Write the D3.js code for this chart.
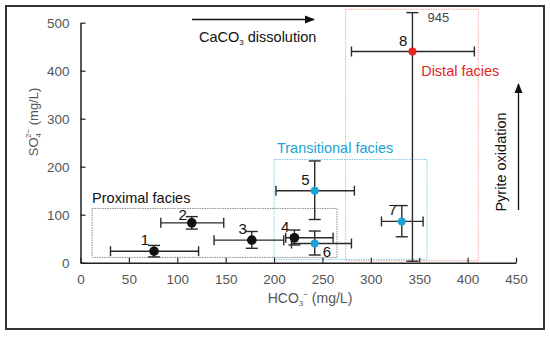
<!DOCTYPE html>
<html>
<head>
<meta charset="utf-8">
<script src="https://cdn.jsdelivr.net/npm/d3@7"></script>
<style>
  body { margin: 0; background: #fff; }
  svg text { font-family: "Liberation Sans", Arial, sans-serif; }
</style>
</head>
<body>
<div id="chart"></div>
<script>
"use strict";

// sample points
var labels = ["1", "2", "3", "4", "5", "6", "7", "8"];
var hco3   = [76, 115, 177, 221, 242, 242, 332, 343];
var so4    = [24, 83, 47, 52, 150, 40, 86, 440];
var hco3Lo = [31, 83, 138, 212, 202, 218, 311, 280];
var hco3Hi = [122, 148, 210, 261, 283, 280, 354, 407];
var so4Lo  = [12, 70, 30, 37, 90, 16, 54, 3];
var so4Hi  = [36, 96, 65, 68, 212, 66, 119, 945];
var facies = ["proximal", "proximal", "proximal", "proximal", "transitional", "transitional", "transitional", "distal"];

// facies boxes (data units)
var boxNames = ["Proximal facies", "Transitional facies", "Distal facies"];
var boxX0 = [12, 200, 274];
var boxX1 = [265, 358, 411];
var boxY0 = [11, 7, 4];
var boxY1 = [113, 215, 528];

var xTicks = [0, 50, 100, 150, 200, 250, 300, 350, 400, 450];
var yTicks = [0, 100, 200, 300, 400, 500];

var larg = 550, haut = 337;
var yMaxShown = 521; // upper whisker of 8 (945) is cut here

var colors = { proximal: "#111111", transitional: "#1aa3d6", distal: "#e2261f" };
var boxColors = ["#8a8a8a", "#7fcbe8", "#f0a49c"];
var boxText = ["#111111", "#1aa3d6", "#e2261f"];

var svg = d3.select("#chart").append("svg")
  .attr("width", larg)
  .attr("height", haut);

// cadre
svg.append("rect")
  .attr("x", 6).attr("y", 6)
  .attr("width", 538).attr("height", 323)
  .attr("fill", "#fff")
  .attr("stroke", "#333")
  .attr("stroke-width", 2);

var x = d3.scaleLinear().domain([0, 450]).range([80.5, 516]);
var y = d3.scaleLinear().domain([0, 500]).range([262.7, 22.7]);

// boites des facies
boxNames.forEach(function(name, i) {
  svg.append("rect")
    .attr("x", x(boxX0[i]))
    .attr("y", y(boxY1[i]))
    .attr("width", x(boxX1[i]) - x(boxX0[i]))
    .attr("height", y(boxY0[i]) - y(boxY1[i]))
    .attr("fill", "none")
    .attr("stroke", boxColors[i])
    .attr("stroke-width", 1)
    .attr("stroke-dasharray", "1.5,1");
});

// axes
var xAxis = svg.append("g")
  .attr("transform", "translate(0," + y(0) + ")")
  .call(d3.axisBottom(x).tickValues(xTicks).tickSizeInner(-5).tickSizeOuter(0).tickPadding(12));
var yAxis = svg.append("g")
  .attr("transform", "translate(" + x(0) + ",0)")
  .call(d3.axisLeft(y).tickValues(yTicks).tickSizeInner(-5).tickSizeOuter(0).tickPadding(11));

[xAxis, yAxis].forEach(function(g) {
  g.select(".domain").attr("stroke", "#222").attr("stroke-width", 1.5);
  g.selectAll(".tick line").attr("stroke", "#222").attr("stroke-width", 1.2);
  g.selectAll(".tick text")
    .attr("fill", "#555")
    .attr("font-size", "13.5px")
    .attr("font-family", "Liberation Sans, Arial, sans-serif");
});

// titres des axes
var xt = svg.append("text")
  .attr("x", 310).attr("y", 303)
  .attr("text-anchor", "middle")
  .attr("font-size", "14px")
  .attr("fill", "#555");
xt.append("tspan").text("HCO");
xt.append("tspan").text("3").attr("font-size", "8px").attr("dy", 3);
xt.append("tspan").text("\u2212").attr("font-size", "8px").attr("dy", -9);
xt.append("tspan").text(" (mg/L)").attr("dy", 6);

var yt = svg.append("text")
  .attr("transform", "translate(38,122) rotate(-90)")
  .attr("text-anchor", "middle")
  .attr("font-size", "13px")
  .attr("fill", "#555");
yt.append("tspan").text("SO");
yt.append("tspan").text("4").attr("font-size", "8px").attr("dy", 3);
yt.append("tspan").text("2\u2212").attr("font-size", "8px").attr("dx", -5).attr("dy", -10);
yt.append("tspan").text(" (mg/L)").attr("dy", 7);

// libelles des facies
var faciesLabelX = [12, 203, 352];
var faciesLabelY = [125, 229, 388];
boxNames.forEach(function(name, i) {
  svg.append("text")
    .attr("x", x(faciesLabelX[i]))
    .attr("y", y(faciesLabelY[i]))
    .attr("font-size", "14.5px")
    .attr("fill", boxText[i])
    .text(name);
});

// barres d'erreur
var errG = svg.append("g").attr("stroke", "#2a2a2a").attr("stroke-width", 1.4);
labels.forEach(function(l, i) {
  var cx = x(hco3[i]), cy = y(so4[i]);
  var top = y(Math.min(so4Hi[i], yMaxShown)), bot = y(so4Lo[i]);
  var left = x(hco3Lo[i]), right = x(hco3Hi[i]);
  errG.append("line").attr("x1", left).attr("x2", right).attr("y1", cy).attr("y2", cy);
  errG.append("line").attr("x1", left).attr("x2", left).attr("y1", cy - 5).attr("y2", cy + 5);
  errG.append("line").attr("x1", right).attr("x2", right).attr("y1", cy - 5).attr("y2", cy + 5);
  errG.append("line").attr("x1", cx).attr("x2", cx).attr("y1", top).attr("y2", bot);
  errG.append("line").attr("x1", cx - 6).attr("x2", cx + 6).attr("y1", top).attr("y2", top);
  errG.append("line").attr("x1", cx - 6).attr("x2", cx + 6).attr("y1", bot).attr("y2", bot);
});

// points
svg.selectAll("circle.pt")
  .data(labels)
  .enter()
  .append("circle")
  .attr("class", "pt")
  .attr("cx", function(d, i) { return x(hco3[i]); })
  .attr("cy", function(d, i) { return y(so4[i]); })
  .attr("r", function(d, i) { return facies[i] === "proximal" ? 4.8 : 4; })
  .attr("fill", function(d, i) { return colors[facies[i]]; });

// numeros des points (6 en dessous a droite)
svg.selectAll("text.num")
  .data(labels)
  .enter()
  .append("text")
  .attr("class", "num")
  .attr("x", function(d, i) { return d === "6" ? x(hco3[i]) + 8 : x(hco3[i]) - 5; })
  .attr("y", function(d, i) { return d === "6" ? y(so4[i]) + 13 : y(so4[i]) - (d === "2" ? 3 : 6); })
  .attr("text-anchor", function(d) { return d === "6" ? "start" : "end"; })
  .attr("font-size", "15px")
  .attr("fill", "#111")
  .text(function(d) { return d; });

// valeur coupee
svg.append("text")
  .attr("x", x(hco3[7]) + 15)
  .attr("y", 22)
  .attr("font-size", "13px")
  .attr("fill", "#444")
  .text(so4Hi[7]);

// fleches
svg.append("defs").append("marker")
  .attr("id", "tete")
  .attr("viewBox", "0 0 10 10")
  .attr("refX", 9).attr("refY", 5)
  .attr("markerWidth", 10).attr("markerHeight", 10)
  .attr("markerUnits", "userSpaceOnUse")
  .attr("orient", "auto")
  .append("path")
  .attr("d", "M0,1 L10,5 L0,9 Z")
  .attr("fill", "#111");

svg.append("line")
  .attr("x1", 192).attr("y1", 19.5).attr("x2", 314).attr("y2", 19.5)
  .attr("stroke", "#111").attr("stroke-width", 1.3)
  .attr("marker-end", "url(#tete)");

var ca = svg.append("text")
  .attr("x", 199).attr("y", 42)
  .attr("font-size", "14.5px")
  .attr("fill", "#111");
ca.append("tspan").text("CaCO");
ca.append("tspan").text("3").attr("font-size", "8px").attr("dy", 3);
ca.append("tspan").text(" dissolution").attr("dy", -3);

svg.append("line")
  .attr("x1", 518.5).attr("y1", 210).attr("x2", 518.5).attr("y2", 84)
  .attr("stroke", "#111").attr("stroke-width", 1.3)
  .attr("marker-end", "url(#tete)");

svg.append("text")
  .attr("transform", "translate(506,162) rotate(-90)")
  .attr("text-anchor", "middle")
  .attr("font-size", "14.5px")
  .attr("fill", "#111")
  .text("Pyrite oxidation");
</script>
</body>
</html>
